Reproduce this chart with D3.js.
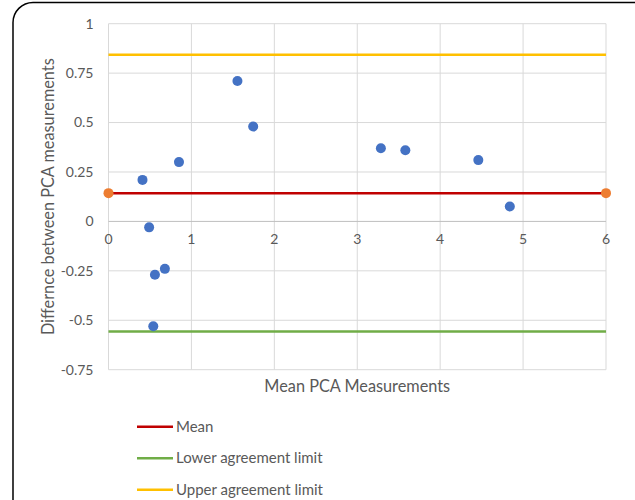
<!DOCTYPE html>
<html><head><meta charset="utf-8">
<script src="https://cdn.jsdelivr.net/npm/d3@7"></script>
<style>body{margin:0;background:#fff}svg{display:block}text{font-family:Lato,"Open Sans",sans-serif;fill:#595959}</style>
</head><body>
<svg id="c" width="635" height="500"></svg>
<script>
const meanPCA = [0.41, 0.49, 0.56, 0.68, 0.54, 0.85, 1.555, 1.745, 3.285, 3.58, 4.46, 4.84];
const diffPCA = [0.21, -0.03, -0.27, -0.24, -0.53, 0.30, 0.71, 0.48, 0.37, 0.36, 0.31, 0.075];
const meanLine = 0.143;
const lowerLimit = -0.557;
const upperLimit = 0.843;
const lineXs = [0, 6];
const xTicks = [0, 1, 2, 3, 4, 5, 6];
const yTicks = [-0.75, -0.5, -0.25, 0, 0.25, 0.5, 0.75, 1];
const legendItems = [
  {name: "Mean", color: "#C00000"},
  {name: "Lower agreement limit", color: "#70AD47"},
  {name: "Upper agreement limit", color: "#FFC000"}
];

const svg = d3.select("#c");
svg.append("rect").attr("x", 13).attr("y", 2.5).attr("width", 640).attr("height", 540)
  .attr("rx", 20).attr("fill", "#fff").attr("stroke", "#000").attr("stroke-width", 1.5);

const x = d3.scaleLinear().domain([0, 6]).range([108.5, 606]);
const y = d3.scaleLinear().domain([-0.75, 1]).range([369.7, 23.7]);

// gridlines
svg.append("g").selectAll("line").data(xTicks).join("line")
  .attr("x1", d => x(d)).attr("x2", d => x(d)).attr("y1", y(1)).attr("y2", y(-0.75))
  .attr("stroke", "#d9d9d9").attr("stroke-width", 1);
svg.append("g").selectAll("line").data(yTicks).join("line")
  .attr("x1", x(0)).attr("x2", x(6)).attr("y1", d => y(d)).attr("y2", d => y(d))
  .attr("stroke", d => d === 0 ? "#bfbfbf" : "#d9d9d9").attr("stroke-width", 1);

// y tick labels
const yFmt = d => String(d);
svg.append("g").selectAll("text").data(yTicks).join("text")
  .attr("x", 93.5).attr("y", d => y(d)).attr("dy", "0.35em").attr("text-anchor", "end")
  .attr("font-size", 14).text(yFmt);
// x tick labels (axis crosses at y=0)
svg.append("g").selectAll("text").data(xTicks).join("text")
  .attr("x", d => x(d)).attr("y", y(0) + 22.5).attr("text-anchor", "middle")
  .attr("font-size", 14).text(d => d);

// limit lines
const lineGen = d3.line().x(d => x(d[0])).y(d => y(d[1]));
svg.append("path").attr("d", lineGen(lineXs.map(v => [v, upperLimit])))
  .attr("stroke", "#FFC000").attr("stroke-width", 2.5).attr("fill", "none");
svg.append("path").attr("d", lineGen(lineXs.map(v => [v, lowerLimit])))
  .attr("stroke", "#70AD47").attr("stroke-width", 2.5).attr("fill", "none");
svg.append("path").attr("d", lineGen(lineXs.map(v => [v, meanLine])))
  .attr("stroke", "#C00000").attr("stroke-width", 2.5).attr("fill", "none");
svg.append("g").selectAll("circle").data(lineXs).join("circle")
  .attr("cx", d => x(d)).attr("cy", y(meanLine)).attr("r", 5).attr("fill", "#ED7D31");

// points
svg.append("g").selectAll("circle").data(meanPCA).join("circle")
  .attr("cx", d => x(d)).attr("cy", (d, i) => y(diffPCA[i])).attr("r", 5)
  .attr("fill", "#4472C4");

// axis titles
svg.append("text").attr("x", (x(0) + x(6)) / 2).attr("y", 392).attr("text-anchor", "middle")
  .attr("font-size", 16.3).text("Mean PCA Measurements");
svg.append("text").attr("transform", `translate(53.5,${(y(1) + y(-0.75)) / 2}) rotate(-90)`)
  .attr("text-anchor", "middle").attr("font-size", 16.3).text("Differnce between PCA measurements");

// legend
const lg = svg.append("g").selectAll("g").data(legendItems).join("g")
  .attr("transform", (d, i) => `translate(0,${426.7 + i * 31.5})`);
lg.append("line").attr("x1", 137).attr("x2", 173).attr("stroke", d => d.color).attr("stroke-width", 2.5);
lg.append("text").attr("x", 176).attr("dy", "0.35em").attr("font-size", 15).text(d => d.name);
</script>
</body></html>
